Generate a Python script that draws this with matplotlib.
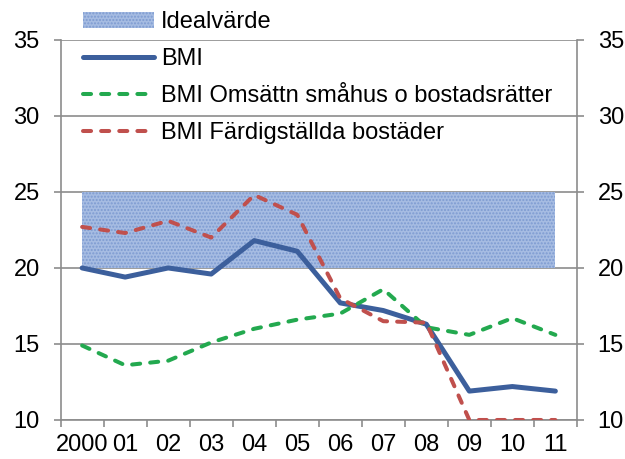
import matplotlib.pyplot as plt
import numpy as np

plt.rcParams['font.family'] = ['Liberation Sans', 'DejaVu Sans']

years = ['2000', '01', '02', '03', '04', '05', '06', '07', '08', '09', '10', '11']
bmi = [20.0, 19.4, 20.0, 19.6, 21.8, 21.1, 17.7, 17.2, 16.3, 11.9, 12.2, 11.9]
bmi_omsattn = [14.9, 13.6, 13.9, 15.1, 16.0, 16.6, 17.0, 18.6, 16.1, 15.6, 16.7, 15.6]
bmi_fardig = [22.7, 22.3, 23.1, 22.0, 24.8, 23.5, 18.0, 16.5, 16.4, 10.0, 10.0, 10.0]
ideal_low, ideal_high = 20, 25

x = np.arange(len(years))

fig = plt.figure(figsize=(6.25, 4.59), dpi=100)
ax = fig.add_axes([0.097, 0.085, 0.826, 0.828])

band = ax.fill_between(x, ideal_low, ideal_high, facecolor='#a6bce2', edgecolor='#7d9bd1',
                       hatch='.....', linewidth=0, label='Idealvärde', zorder=1)
l1, = ax.plot(x, bmi, color='#3c5f9c', lw=3.6, solid_capstyle='round', label='BMI', zorder=3)
l2, = ax.plot(x, bmi_omsattn, color='#23a94f', lw=2.9, dashes=(2.0, 2.5), dash_capstyle='round',
              label='BMI Omsättn småhus o bostadsrätter', zorder=3)
l3, = ax.plot(x, bmi_fardig, color='#c0504d', lw=2.9, dashes=(2.0, 2.5), dash_capstyle='round',
              label='BMI Färdigställda bostäder', zorder=3)

ax.set_xlim(-0.5, len(years) - 0.5)
ax.set_ylim(10, 35)
ax.set_yticks(range(10, 36, 5))
ax.yaxis.grid(True, color='#8c8c8c', lw=1.2)
ax.set_axisbelow(True)

ax.set_xticks(x)
ax.set_xticklabels(years)
ax.set_xticks(np.arange(-0.5, len(years)), minor=True)
ax.tick_params(axis='x', which='major', length=0, pad=10, labelsize=17)
ax.tick_params(axis='x', which='minor', length=5, width=1.2, color='#8c8c8c', direction='out')
ax.tick_params(axis='y', length=5, width=1.2, color='#8c8c8c', labelsize=17,
               left=True, right=True, labelright=True)
for t in ax.yaxis.get_major_ticks():
    t.set_pad(10)

for side in ['left', 'right', 'bottom']:
    ax.spines[side].set_color('#8c8c8c')
    ax.spines[side].set_linewidth(1.2)
ax.spines['top'].set_visible(False)

fig.legend(handles=[band, l1, l2, l3], loc='upper left', bbox_to_anchor=(0.118, 0.996),
           frameon=False, fontsize=17, handlelength=3.0, labelspacing=0.63,
           handletextpad=0.3, borderaxespad=0.0)

fig.savefig('out.png', dpi=100)
